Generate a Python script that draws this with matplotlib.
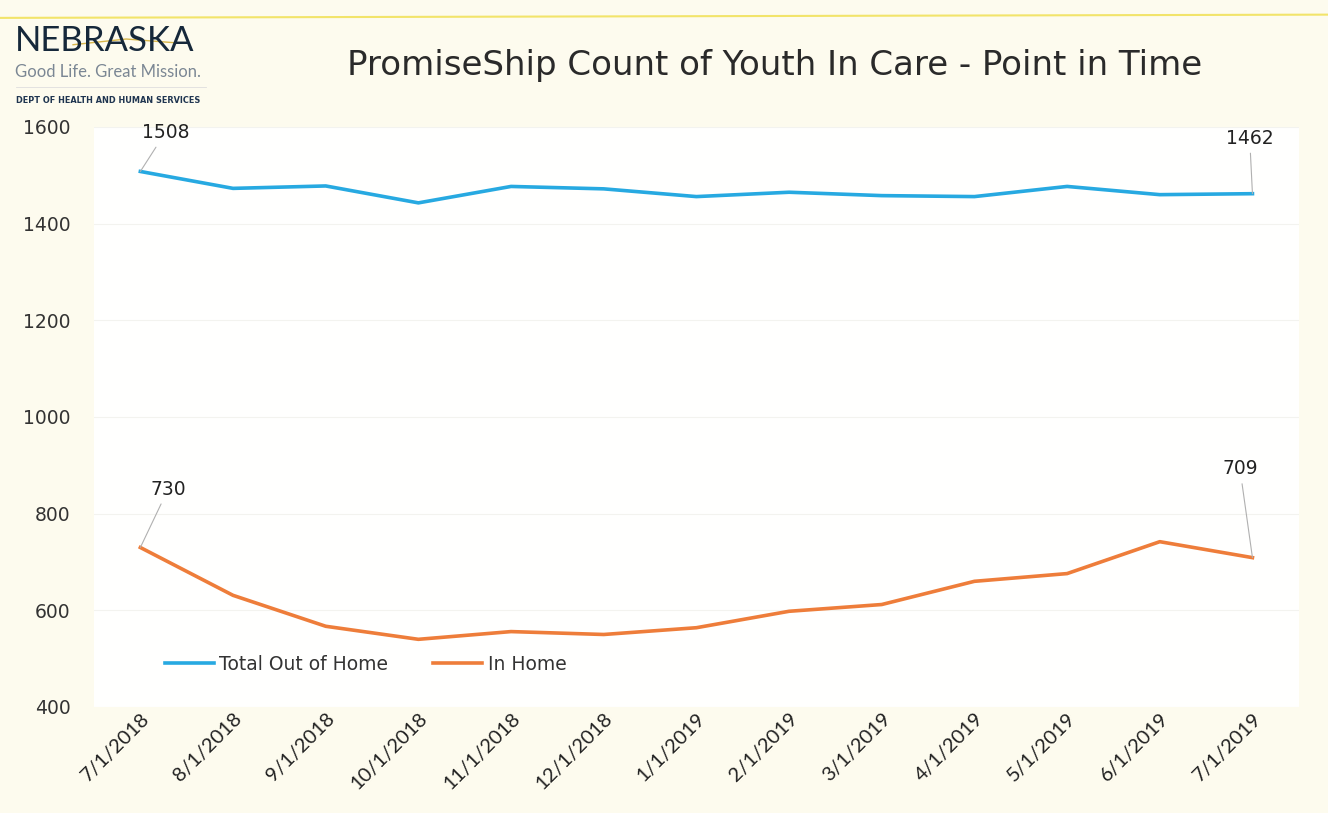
import numpy as np
import matplotlib.pyplot as plt
from matplotlib.lines import Line2D

# point-in-time counts
months = ["7/1/2018", "8/1/2018", "9/1/2018", "10/1/2018", "11/1/2018", "12/1/2018",
          "1/1/2019", "2/1/2019", "3/1/2019", "4/1/2019", "5/1/2019", "6/1/2019", "7/1/2019"]
out_of_home = [1508, 1473, 1478, 1443, 1477, 1472, 1456, 1465, 1458, 1456, 1477, 1460, 1462]
in_home = [730, 631, 567, 540, 556, 550, 564, 598, 612, 660, 676, 742, 709]

# labels printed on the chart (first and last point of each series)
label_idx = [0, 12]
label_out = ["1508", "1462"]
label_in = ["730", "709"]

yticks = [400, 600, 800, 1000, 1200, 1400, 1600]

blue = "#27a9e1"
orange = "#ee7d3a"

fig = plt.figure(figsize=(13.28, 8.13), dpi=100, facecolor="#fdfbee")
ax = fig.add_axes([0.0708, 0.1304, 0.9072, 0.7134])
ax.set_facecolor("#fffffe")

x = np.arange(len(months))
ax.plot(x, out_of_home, color=blue, lw=2.6, label="Total Out of Home", solid_joinstyle="round")
ax.plot(x, in_home, color=orange, lw=2.6, label="In Home", solid_joinstyle="round")

ax.set_xlim(-0.5, len(months) - 0.5)
ax.set_ylim(400, 1600)
ax.set_yticks(yticks)
ax.set_yticklabels([str(t) for t in yticks], fontsize=13.5, color="#333333")
ax.set_xticks(x)
ax.set_xticklabels(months, rotation=45, ha="right", rotation_mode="anchor",
                   fontsize=14.5, family="Lato", color="#222222")
ax.tick_params(axis="both", length=0)
ax.tick_params(axis="y", pad=17)
ax.tick_params(axis="x", pad=2)
for s in ax.spines.values():
    s.set_visible(False)
ax.grid(axis="y", color="#f3f3ef", lw=0.8)
ax.set_axisbelow(True)

# data labels with leader lines
lead = dict(arrowstyle="-", color="#b0b0b0", lw=0.8, shrinkA=2, shrinkB=0)
offs_out = [(18, 28), (-2, 40)]
offs_in = [(20, 42), (-9, 64)]
for i, t, o in zip(label_idx, label_out, offs_out):
    ax.annotate(t, (x[i], out_of_home[i]), xytext=o, textcoords="offset points",
                ha="center", va="center", fontsize=13.5, color="#222222", arrowprops=lead)
for i, t, o in zip(label_idx, label_in, offs_in):
    ax.annotate(t, (x[i], in_home[i]), xytext=o, textcoords="offset points",
                ha="center", va="center", fontsize=13.5, color="#222222", arrowprops=lead)

ax.legend(loc="lower left", bbox_to_anchor=(0.045, 0.028), ncol=2, frameon=False,
          fontsize=13.5, handlelength=2.6, handletextpad=0.3, columnspacing=2.4,
          labelcolor="#333333")

fig.text(0.5836, 0.920, "PromiseShip Count of Youth In Care - Point in Time",
         ha="center", va="center", fontsize=24.5, color="#2a2a2a")

# logo block
fig.text(0.011, 0.949, "NEBRASKA", ha="left", va="center", fontsize=25,
         family="Lato", color="#16283a")
fig.text(0.011, 0.911, "Good Life. Great Mission.", ha="left", va="center",
         fontsize=12, family="Lato", color="#7b8794")
fig.text(0.012, 0.876, "DEPT OF HEALTH AND HUMAN SERVICES", ha="left", va="center",
         fontsize=5.9, weight="bold", color="#1f3550")
fig.add_artist(Line2D([0.055, 0.095, 0.135], [0.945, 0.952, 0.947], color="#d8b64a",
                      lw=1.0, transform=fig.transFigure))
fig.add_artist(Line2D([0.012, 0.155], [0.893, 0.893], color="#dedede",
                      lw=0.6, transform=fig.transFigure))
fig.add_artist(Line2D([0.0, 1.0], [0.978, 0.982], color="#f2e46a",
                      lw=1.5, transform=fig.transFigure))

fig.savefig("out.png", dpi=100, facecolor=fig.get_facecolor())
